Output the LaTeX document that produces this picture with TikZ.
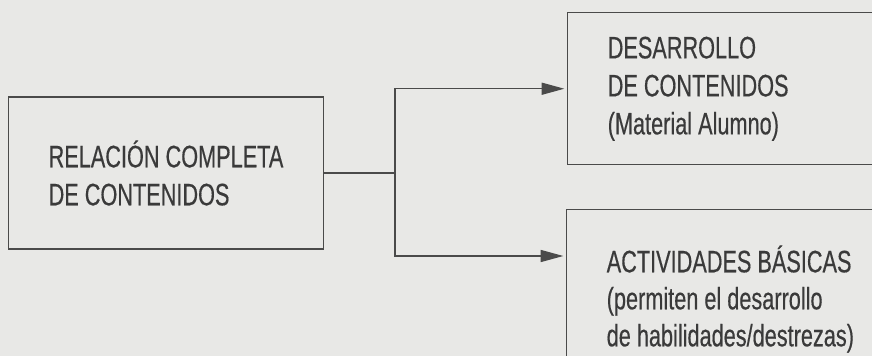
\documentclass[tikz,border=0pt]{standalone}
\usepackage{fontspec}
\setmainfont{Liberation Sans}[FakeStretch=0.70, FakeBold=0.4]
\usepackage{tikz}
\usetikzlibrary{arrows.meta,positioning}
\definecolor{paper}{HTML}{E8E8E6}
\definecolor{linegray}{HTML}{4A4A4A}
\definecolor{inkgray}{HTML}{3A3A3A}
\newcommand{\blockfont}{\fontsize{23.25}{28.5}\selectfont}
\tikzstyle{block} = [rectangle, draw=linegray, line width=1.1pt, fill=paper,
    align=left, inner xsep=30pt, inner ysep=0pt, text=inkgray, font=\blockfont,
    execute at begin node={\spaceskip=0pt\relax}]
\tikzstyle{arrow} = [-{Triangle[length=17pt,width=9pt]}, line width=1.1pt, linegray]

\begin{document}
\begin{tikzpicture}[x=0.75pt, y=-0.75pt]
\useasboundingbox (0,0) rectangle (872,356);
\clip (0,0) rectangle (872,356);
\fill[paper] (0,0) rectangle (872,356);

\node[block, minimum width=235.5pt, minimum height=114pt] (relacion) at (166,173)
  {RELACIÓN COMPLETA\\DE CONTENIDOS};
\node[block, anchor=north west, minimum width=260pt, minimum height=114pt,
  text width=200pt] (desarrollo) at (567,12)
  {DESARROLLO\\DE CONTENIDOS\\(Material Alumno)};
\node[block, anchor=north west, minimum width=260pt, minimum height=134pt,
  text width=200pt, font=\fontsize{23.25}{27.75}\selectfont] (actividades) at (566,209)
  {ACTIVIDADES BÁSICAS\\(permiten el desarrollo\\de habilidades/destrezas)};

\draw[line width=1.1pt, linegray] (relacion.east) -- ++(71,0) coordinate (rama);
\draw[arrow, shorten >=2pt] (rama) |- (desarrollo.west);
\draw[arrow, shorten >=2pt] (rama) |- ([yshift=-35.25pt]actividades.north west);
\end{tikzpicture}
\end{document}
